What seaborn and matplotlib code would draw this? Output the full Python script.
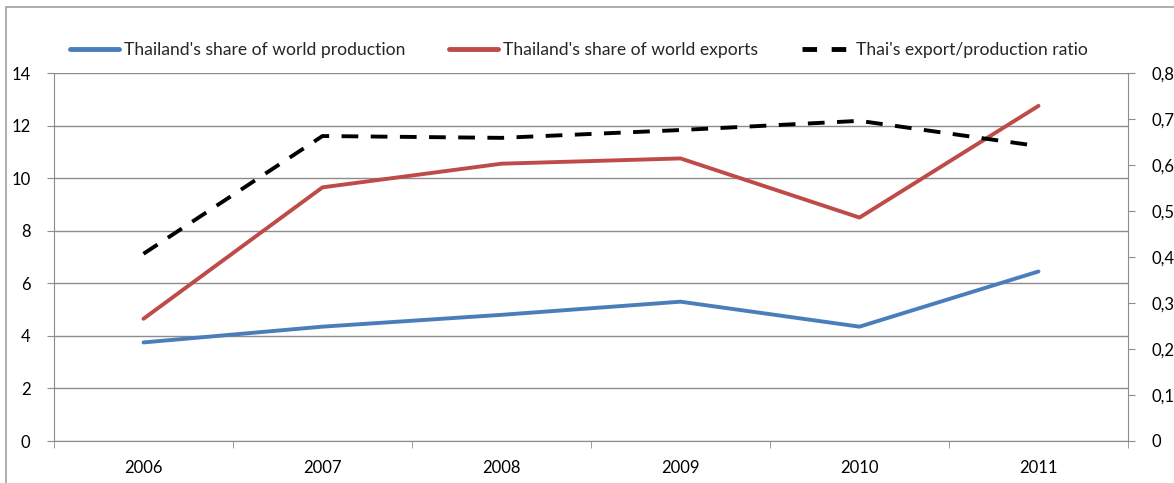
import numpy as np
import pandas as pd
import matplotlib
matplotlib.use("Agg")
import matplotlib.pyplot as plt
import seaborn as sns
from matplotlib.patches import Rectangle
from matplotlib.lines import Line2D

years = ["2006", "2007", "2008", "2009", "2010", "2011"]
production_share = [3.75, 4.35, 4.8, 5.3, 4.35, 6.45]
export_share = [4.65, 9.65, 10.55, 10.75, 8.5, 12.75]
export_prod_ratio = [0.407, 0.663, 0.659, 0.676, 0.696, 0.641]

left_ticks = [0, 2, 4, 6, 8, 10, 12, 14]
right_ticks = [0, 0.1, 0.2, 0.3, 0.4, 0.5, 0.6, 0.7, 0.8]
right_labels = ["0", "0,1", "0,2", "0,3", "0,4", "0,5", "0,6", "0,7", "0,8"]

sns.set_style("white")
plt.rcParams["font.family"] = ["Lato", "DejaVu Sans"]

BLUE = "#4A7EBB"
RED = "#BE4B48"
GRID = "#8C8C8C"
DASH = (0, (4.3, 3.2))

fig = plt.figure(figsize=(11.74, 4.83), dpi=100)
fig.patches.append(Rectangle((6 / 1174, -0.1), 1.2, 1 - 7 / 483 + 0.1,
                             transform=fig.transFigure, fill=False,
                             edgecolor="#A0A0A0", linewidth=1.2))

ax = fig.add_axes([54 / 1174, 1 - 441 / 483, (1128 - 54) / 1174, (441 - 73) / 483])
ax2 = ax.twinx()

df = pd.DataFrame({"x": np.arange(len(years)), "prod": production_share,
                   "exp": export_share, "ratio": export_prod_ratio})

sns.lineplot(data=df, x="x", y="prod", ax=ax, color=BLUE, linewidth=2.8)
sns.lineplot(data=df, x="x", y="exp", ax=ax, color=RED, linewidth=2.8)
sns.lineplot(data=df, x="x", y="ratio", ax=ax2, color="black", linewidth=2.8,
             linestyle=DASH)

for a in (ax, ax2):
    a.set_xlim(-0.5, len(years) - 0.5)
    a.set_xlabel("")
    a.set_ylabel("")
    for s in a.spines.values():
        s.set_visible(False)

ax.set_ylim(0, 14)
ax.set_yticks(left_ticks)
ax.set_yticklabels([str(t) for t in left_ticks])
ax2.set_ylim(0, 0.8)
ax2.set_yticks(right_ticks)
ax2.set_yticklabels(right_labels)

ax.grid(axis="y", color=GRID, linewidth=1)
ax.grid(axis="x", visible=False)
ax2.grid(False)
ax.set_axisbelow(True)

ax.spines["left"].set_visible(True)
ax.spines["left"].set_color(GRID)
ax.spines["bottom"].set_visible(True)
ax.spines["bottom"].set_color(GRID)
ax2.spines["right"].set_visible(True)
ax2.spines["right"].set_color(GRID)

ax.set_xticks(np.arange(len(years)))
ax.set_xticklabels(years)
ax.set_xticks(np.arange(len(years) + 1) - 0.5, minor=True)
ax.tick_params(axis="x", which="major", length=0, pad=14, labelsize=12, colors="black")
ax.tick_params(axis="x", which="minor", length=5, color=GRID, direction="out", bottom=True)
ax.tick_params(axis="y", length=5, color=GRID, direction="out", left=True, pad=12,
               labelsize=12, colors="black")
ax2.tick_params(axis="y", length=5, color=GRID, direction="out", right=True, pad=12,
                labelsize=12, colors="black")

handles = [Line2D([], [], color=BLUE, linewidth=3.5),
           Line2D([], [], color=RED, linewidth=3.5),
           Line2D([], [], color="black", linewidth=3.5, linestyle=(0, (3.0, 3.0)))]
labels = ["Thailand's share of world production",
          "Thailand's share of world exports",
          "Thai's export/production ratio"]
fig.legend(handles, labels, loc="center", bbox_to_anchor=(579 / 1174, 1 - 50 / 483),
           ncol=3, frameon=False, fontsize=12.6, handlelength=2.8, handletextpad=0.3,
           columnspacing=2.5)

fig.savefig("out.png", dpi=100)
